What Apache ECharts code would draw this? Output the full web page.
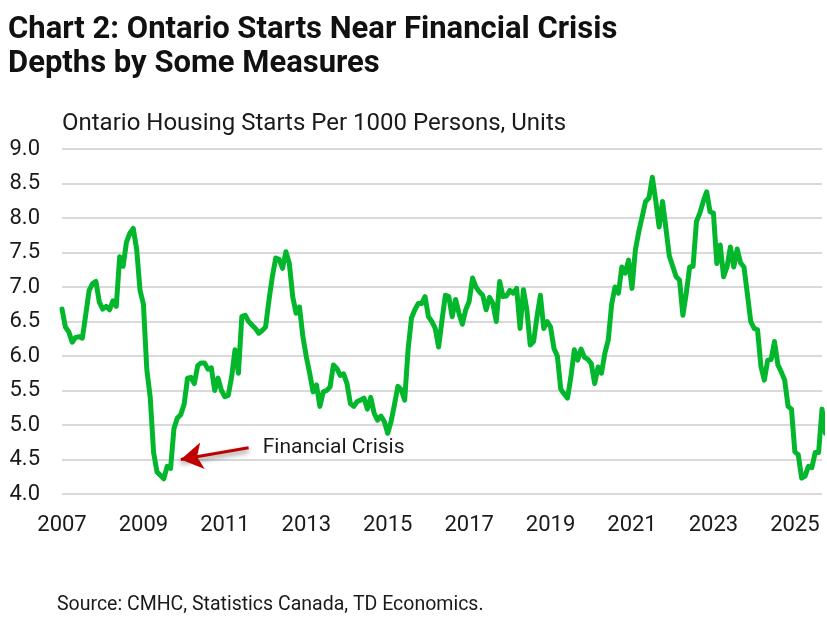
<!DOCTYPE html>
<html>
<head>
<meta charset="utf-8">
<script src="https://cdn.jsdelivr.net/npm/echarts@6/dist/echarts.min.js"></script>
<style>html,body{margin:0;padding:0;background:#fff;}#c{width:827px;height:617px;}</style>
</head>
<body>
<div id="c"></div>
<script>
// Monthly categories Jan 2007 .. Sep 2025
const categories = [];
for (let y = 2007; y <= 2025; y++) {
  for (let m = 1; m <= 12; m++) {
    if (y === 2025 && m > 9) break;
    categories.push(y + '-' + (m < 10 ? '0' + m : m));
  }
}
// Ontario housing starts per 1000 persons
const starts = [
  6.68,6.42,6.35,6.20,6.27,6.28,6.26,6.60,6.95,7.05,7.08,6.78,
  6.68,6.72,6.67,6.80,6.72,7.44,7.30,7.65,7.78,7.85,7.55,6.95,
  6.75,5.80,5.40,4.60,4.32,4.27,4.22,4.40,4.37,4.95,5.10,5.15,
  5.30,5.68,5.69,5.60,5.86,5.90,5.90,5.81,5.83,5.50,5.68,5.50,
  5.41,5.43,5.70,6.09,5.75,6.57,6.59,6.50,6.45,6.40,6.33,6.37,
  6.42,6.81,7.15,7.42,7.40,7.27,7.51,7.34,6.86,6.62,6.71,6.28,
  5.99,5.75,5.48,5.58,5.27,5.48,5.50,5.55,5.87,5.82,5.72,5.74,
  5.60,5.31,5.27,5.34,5.36,5.39,5.23,5.40,5.17,5.07,5.13,5.05,
  4.88,5.05,5.30,5.56,5.51,5.36,6.09,6.55,6.67,6.76,6.76,6.86,
  6.57,6.50,6.40,6.13,6.52,6.88,6.86,6.57,6.82,6.62,6.46,6.67,
  6.79,7.13,7.00,6.93,6.88,6.67,6.85,6.76,6.50,7.08,6.86,6.87,
  6.95,6.91,6.98,6.40,6.96,6.67,6.16,6.21,6.57,6.88,6.40,6.50,
  6.42,6.11,6.00,5.52,5.45,5.39,5.70,6.09,5.94,6.10,5.98,5.95,
  5.89,5.60,5.84,5.75,6.04,6.23,6.75,7.00,6.91,7.29,7.20,7.39,
  6.98,7.54,7.80,8.02,8.24,8.29,8.59,8.25,7.87,8.24,7.85,7.45,
  7.30,7.15,7.10,6.59,6.91,7.29,7.30,7.95,8.07,8.24,8.38,8.09,
  8.07,7.34,7.61,7.15,7.29,7.58,7.29,7.55,7.35,7.29,6.90,6.50,
  6.40,6.38,5.85,5.65,5.94,5.95,6.21,5.87,5.77,5.65,5.27,5.23,
  4.61,4.57,4.23,4.26,4.40,4.38,4.60,4.60,5.23,4.88
];
const yTicks = ['4.0','4.5','5.0','5.5','6.0','6.5','7.0','7.5','8.0','8.5','9.0'];
const annotationText = 'Financial Crisis';
const arrowTail = ['2011-08', 4.67];
const arrowHead = ['2009-12', 4.50];
const labelAnchor = ['2011-12', 4.67];

const chart = echarts.init(document.getElementById('c'), null, {renderer: 'canvas'});
const FONT = 'Roboto';
chart.setOption({
  animation: false,
  backgroundColor: '#ffffff',
  title: [
    {text: 'Chart 2: Ontario Starts Near Financial Crisis\nDepths by Some Measures', left: 8, top: 13, padding: 0,
     textStyle: {fontFamily: FONT, fontWeight: 'bold', fontSize: 31, lineHeight: 34, color: '#111'}},
    {text: 'Ontario Housing Starts Per 1000 Persons, Units', left: 62, top: 112, padding: 0,
     textStyle: {fontFamily: FONT, fontWeight: 'normal', fontSize: 24, color: '#1a1a1a'}},
    {text: 'Source: CMHC, Statistics Canada, TD Economics.', left: 57, top: 595, padding: 0,
     textStyle: {fontFamily: FONT, fontWeight: 'normal', fontSize: 19.5, color: '#1a1a1a'}}
  ],
  grid: {left: 62, right: 5, top: 149, bottom: 123, containLabel: false},
  xAxis: {
    type: 'category', data: categories, boundaryGap: false,
    axisLine: {show: false}, axisTick: {show: false}, splitLine: {show: false},
    axisLabel: {
      interval: function (idx) { return idx % 24 === 0; },
      formatter: function (v) { return v.slice(0, 4); },
      fontFamily: FONT, fontSize: 22, color: '#1a1a1a', margin: 20
    }
  },
  yAxis: {
    type: 'value', min: 4, max: 9, interval: 0.5,
    axisLine: {show: false}, axisTick: {show: false},
    splitLine: {lineStyle: {color: '#d9d9d9', width: 2}},
    axisLabel: {
      formatter: function (v) { return yTicks[Math.round((v - 4) / 0.5)]; },
      fontFamily: FONT, fontSize: 22, color: '#1a1a1a', margin: 22
    }
  },
  series: [{
    type: 'line', data: starts, showSymbol: false, symbol: 'none',
    lineStyle: {color: '#03b72c', width: 5, cap: 'round', join: 'round'},
    z: 3,
    markLine: {
      silent: true, symbol: ['none', 'arrow'], symbolSize: [20, 22],
      label: {show: false},
      lineStyle: {color: '#c00000', width: 3, type: 'solid',
                  shadowBlur: 5, shadowColor: 'rgba(0,0,0,0.45)', shadowOffsetY: 3},
      data: [[{coord: arrowTail}, {coord: arrowHead}]]
    },
    markPoint: {
      silent: true, symbol: 'circle', symbolSize: 1,
      itemStyle: {color: 'rgba(0,0,0,0)'},
      label: {show: true, position: 'right', distance: 0, formatter: annotationText,
              fontFamily: FONT, fontSize: 21, color: '#1a1a1a'},
      data: [{coord: labelAnchor}]
    }
  }]
});
</script>
</body>
</html>
